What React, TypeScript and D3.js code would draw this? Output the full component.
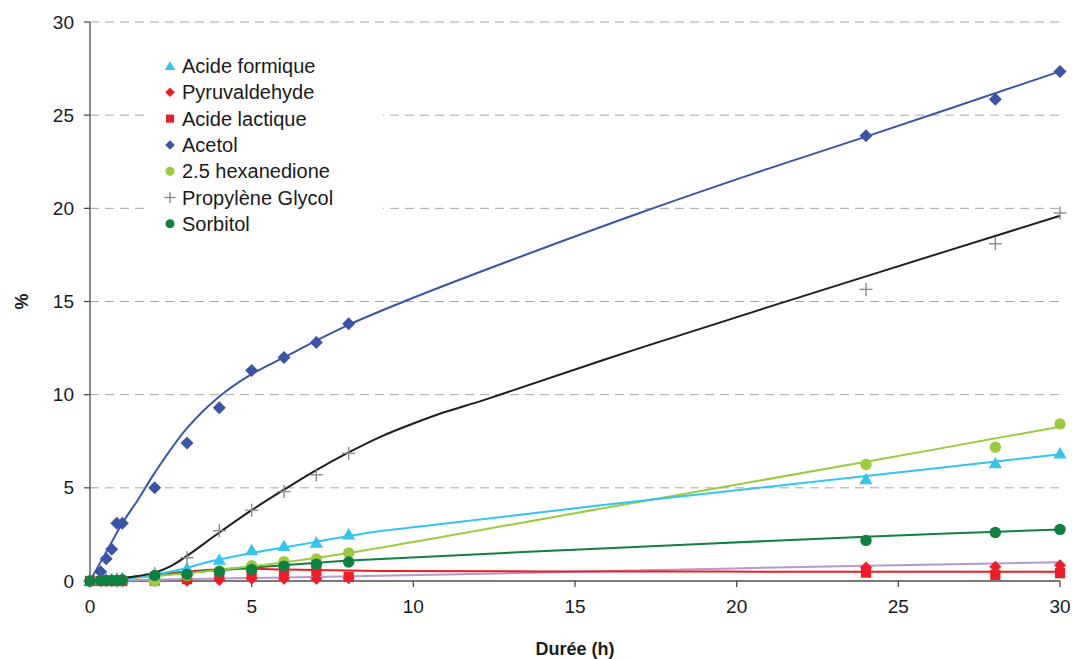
import React from "react";
import * as d3 from "d3";

const times = [0, 0.33, 0.5, 0.67, 0.83, 1, 2, 3, 4, 5, 6, 7, 8, 24, 28, 30];

const acideFormique = [0, 0.05, 0.08, 0.1, 0.12, 0.15, 0.35, 0.68, 1.15, 1.66, 1.88, 2.06, 2.5, 5.47, 6.32, 6.85];
const pyruvaldehyde = [0, 0, 0, 0, 0, 0, 0, 0.02, 0.05, 0.12, 0.12, 0.12, 0.15, 0.72, 0.77, 0.85];
const acideLactique = [0, 0, 0, 0, 0, 0, 0.02, 0.1, 0.32, 0.38, 0.5, 0.54, 0.22, 0.45, 0.33, 0.42];
const acetol = [0, 0.5, 1.2, 1.7, 3.1, 3.1, 5.0, 7.4, 9.3, 11.3, 12.0, 12.8, 13.8, 23.9, 25.85, 27.35];
const hexanedione = [0, 0.02, 0.03, 0.03, 0.04, 0.05, 0.0, 0.3, 0.55, 0.82, 1.04, 1.18, 1.5, 6.25, 7.18, 8.43];
const propyleneGlycol = [0, 0.02, 0.05, 0.05, 0.08, 0.1, 0.4, 1.25, 2.7, 3.8, 4.8, 5.7, 6.85, 15.65, 18.1, 19.75];
const sorbitol = [0, 0.03, 0.03, 0.03, 0.03, 0.05, 0.3, 0.36, 0.5, 0.62, 0.8, 0.9, 1.02, 2.18, 2.6, 2.77];

// fitted curves: [time, value]
const fitAcetol: [number, number][] = [[0, 0], [0.5, 1.55], [1, 3.1], [1.5, 4.4], [2, 5.8], [3, 8.2], [4, 9.9], [5, 11.1], [6, 12.0], [7, 12.9], [8, 13.75], [10, 15.2], [13, 17.2], [17, 19.75], [20.5, 21.85], [24, 23.85], [30, 27.35]];
const fitPG: [number, number][] = [[0, 0], [1, 0.15], [2, 0.45], [2.5, 0.8], [3, 1.35], [4, 2.6], [5, 3.8], [6, 4.9], [7, 5.95], [8, 6.9], [9, 7.75], [10, 8.45], [11, 9.08], [12.2, 9.72], [17, 12.5], [24, 16.35], [30, 19.6]];
const fitFormique: [number, number][] = [[0, 0], [1, 0.1], [2, 0.35], [3, 0.7], [3.5, 0.95], [4, 1.15], [5, 1.5], [6, 1.8], [7, 2.1], [8, 2.42], [9, 2.68], [10, 2.88], [16, 4.1], [24, 5.63], [30, 6.8]];
const fitHexanedione: [number, number][] = [[0, 0], [2, 0.25], [4.26, 0.64], [6, 1.0], [8.35, 1.6], [16, 3.95], [24, 6.4], [30, 8.28]];
const fitSorbitol: [number, number][] = [[0, 0], [1, 0.12], [2, 0.3], [3, 0.45], [4.3, 0.62], [6, 0.85], [8.35, 1.13], [16, 1.76], [24, 2.38], [30, 2.77]];
const fitRed: [number, number][] = [[0, 0], [1, 0.15], [2, 0.35], [3, 0.5], [4.3, 0.66], [6, 0.62], [9, 0.54], [16, 0.51], [24, 0.5], [30, 0.5]];
const fitPurple: [number, number][] = [[0, 0], [4.5, 0.15], [9, 0.28], [16, 0.53], [24, 0.82], [30, 1.0]];

const yTicks = [0, 5, 10, 15, 20, 25, 30];
const xTicks = [0, 5, 10, 15, 20, 25, 30];

const legendNames = ["Acide formique", "Pyruvaldehyde", "Acide lactique", "Acetol", "2.5 hexanedione", "Propylène Glycol", "Sorbitol"];

const C = {
  cyan: "#33C4F2",
  red: "#EE1C25",
  blue: "#3A55A8",
  lgreen: "#9BCB3C",
  gray: "#8A8A8A",
  dgreen: "#0E8040",
  black: "#1E1E1E",
  purple: "#B79ACB",
};

type Shape = "triangle" | "diamond" | "square" | "circle" | "plus";

function Marker({ shape, x, y, s, color }: { shape: Shape; x: number; y: number; s: number; color: string }) {
  const h = s / 2;
  if (shape === "triangle") {
    return <polygon points={`${x},${y - h * 1.05} ${x + h * 1.1},${y + h * 0.85} ${x - h * 1.1},${y + h * 0.85}`} fill={color} />;
  }
  if (shape === "diamond") {
    return <polygon points={`${x},${y - h} ${x + h},${y} ${x},${y + h} ${x - h},${y}`} fill={color} />;
  }
  if (shape === "square") {
    return <rect x={x - h * 0.85} y={y - h * 0.85} width={h * 1.7} height={h * 1.7} fill={color} />;
  }
  if (shape === "circle") {
    return <circle cx={x} cy={y} r={h * 0.95} fill={color} />;
  }
  return (
    <g stroke={color} strokeWidth={1.4}>
      <line x1={x - h} x2={x + h} y1={y} y2={y} />
      <line x1={x} x2={x} y1={y - h} y2={y + h} />
    </g>
  );
}

export default function App() {
  const x = d3.scaleLinear().domain([0, 30]).range([90, 1060]);
  const y = d3.scaleLinear().domain([0, 30]).range([581, 22]);
  const line = d3
    .line<[number, number]>()
    .x((d) => x(d[0]))
    .y((d) => y(d[1]))
    .curve(d3.curveCatmullRom.alpha(0.5));

  const fits: { data: [number, number][]; color: string; w: number }[] = [
    { data: fitPurple, color: C.purple, w: 2 },
    { data: fitRed, color: C.red, w: 2 },
    { data: fitSorbitol, color: C.dgreen, w: 2 },
    { data: fitHexanedione, color: C.lgreen, w: 2 },
    { data: fitFormique, color: C.cyan, w: 2 },
    { data: fitPG, color: C.black, w: 2 },
    { data: fitAcetol, color: C.blue, w: 2 },
  ];

  const series: { name: string; values: number[]; shape: Shape; color: string; s: number }[] = [
    { name: legendNames[0], values: acideFormique, shape: "triangle", color: C.cyan, s: 12 },
    { name: legendNames[1], values: pyruvaldehyde, shape: "diamond", color: C.red, s: 12 },
    { name: legendNames[2], values: acideLactique, shape: "square", color: C.red, s: 12 },
    { name: legendNames[3], values: acetol, shape: "diamond", color: C.blue, s: 13 },
    { name: legendNames[4], values: hexanedione, shape: "circle", color: C.lgreen, s: 12 },
    { name: legendNames[5], values: propyleneGlycol, shape: "plus", color: C.gray, s: 13 },
    { name: legendNames[6], values: sorbitol, shape: "circle", color: C.dgreen, s: 12 },
  ];

  const font = "'Liberation Sans', Arial, sans-serif";

  return (
    <svg width={1072} height={659} style={{ position: "absolute", left: 0, top: 0, background: "#fff" }} fontFamily={font}>
      <rect x={0} y={0} width={1072} height={659} fill="#fff" />
      {yTicks.filter((t) => t > 0).map((t) => (
        <line key={t} x1={x(0)} x2={x(30)} y1={y(t)} y2={y(t)} stroke="#A6A6A6" strokeWidth={1} strokeDasharray="9,6" />
      ))}
      <rect x={150} y={50} width={233} height={190} fill="#fff" />
      <line x1={x(0)} x2={x(0)} y1={y(30)} y2={y(0)} stroke="#4D4D4D" strokeWidth={1.3} />
      <line x1={x(0)} x2={x(30)} y1={y(0)} y2={y(0)} stroke="#4D4D4D" strokeWidth={1.3} />
      {yTicks.map((t) => (
        <g key={"y" + t}>
          <line x1={x(0) - 6} x2={x(0)} y1={y(t)} y2={y(t)} stroke="#4D4D4D" strokeWidth={1.3} />
          <text x={x(0) - 16} y={y(t)} dy="0.35em" textAnchor="end" fontSize={19} fill="#1a1a1a">
            {t}
          </text>
        </g>
      ))}
      {xTicks.map((t) => (
        <g key={"x" + t}>
          <line x1={x(t)} x2={x(t)} y1={y(0)} y2={y(0) + 6} stroke="#4D4D4D" strokeWidth={1.3} />
          <text x={x(t)} y={y(0) + 25} dy="0.35em" textAnchor="middle" fontSize={19} fill="#1a1a1a">
            {t}
          </text>
        </g>
      ))}
      <text x={575} y={649} dy="0.35em" textAnchor="middle" fontSize={18} fontWeight="bold" fill="#1a1a1a">
        Durée (h)
      </text>
      <text transform={`translate(22,${y(15)}) rotate(-90)`} dy="0.35em" textAnchor="middle" fontSize={18} fontWeight="bold" fill="#1a1a1a">
        %
      </text>
      {fits.map((f, i) => (
        <path key={i} d={line(f.data) || ""} fill="none" stroke={f.color} strokeWidth={f.w} />
      ))}
      {series.map((s) => (
        <g key={s.name}>
          {s.values.map((v, i) => (
            <Marker key={i} shape={s.shape} x={x(times[i])} y={y(v)} s={s.s} color={s.color} />
          ))}
        </g>
      ))}
      {series.map((s, i) => (
        <g key={"lg" + s.name}>
          <Marker shape={s.shape} x={170} y={66 + i * 26.3} s={s.shape === "plus" ? 11 : 9.5} color={s.color} />
          <text x={182} y={66 + i * 26.3} dy="0.35em" fontSize={20} fill="#1a1a1a">
            {s.name}
          </text>
        </g>
      ))}
    </svg>
  );
}
